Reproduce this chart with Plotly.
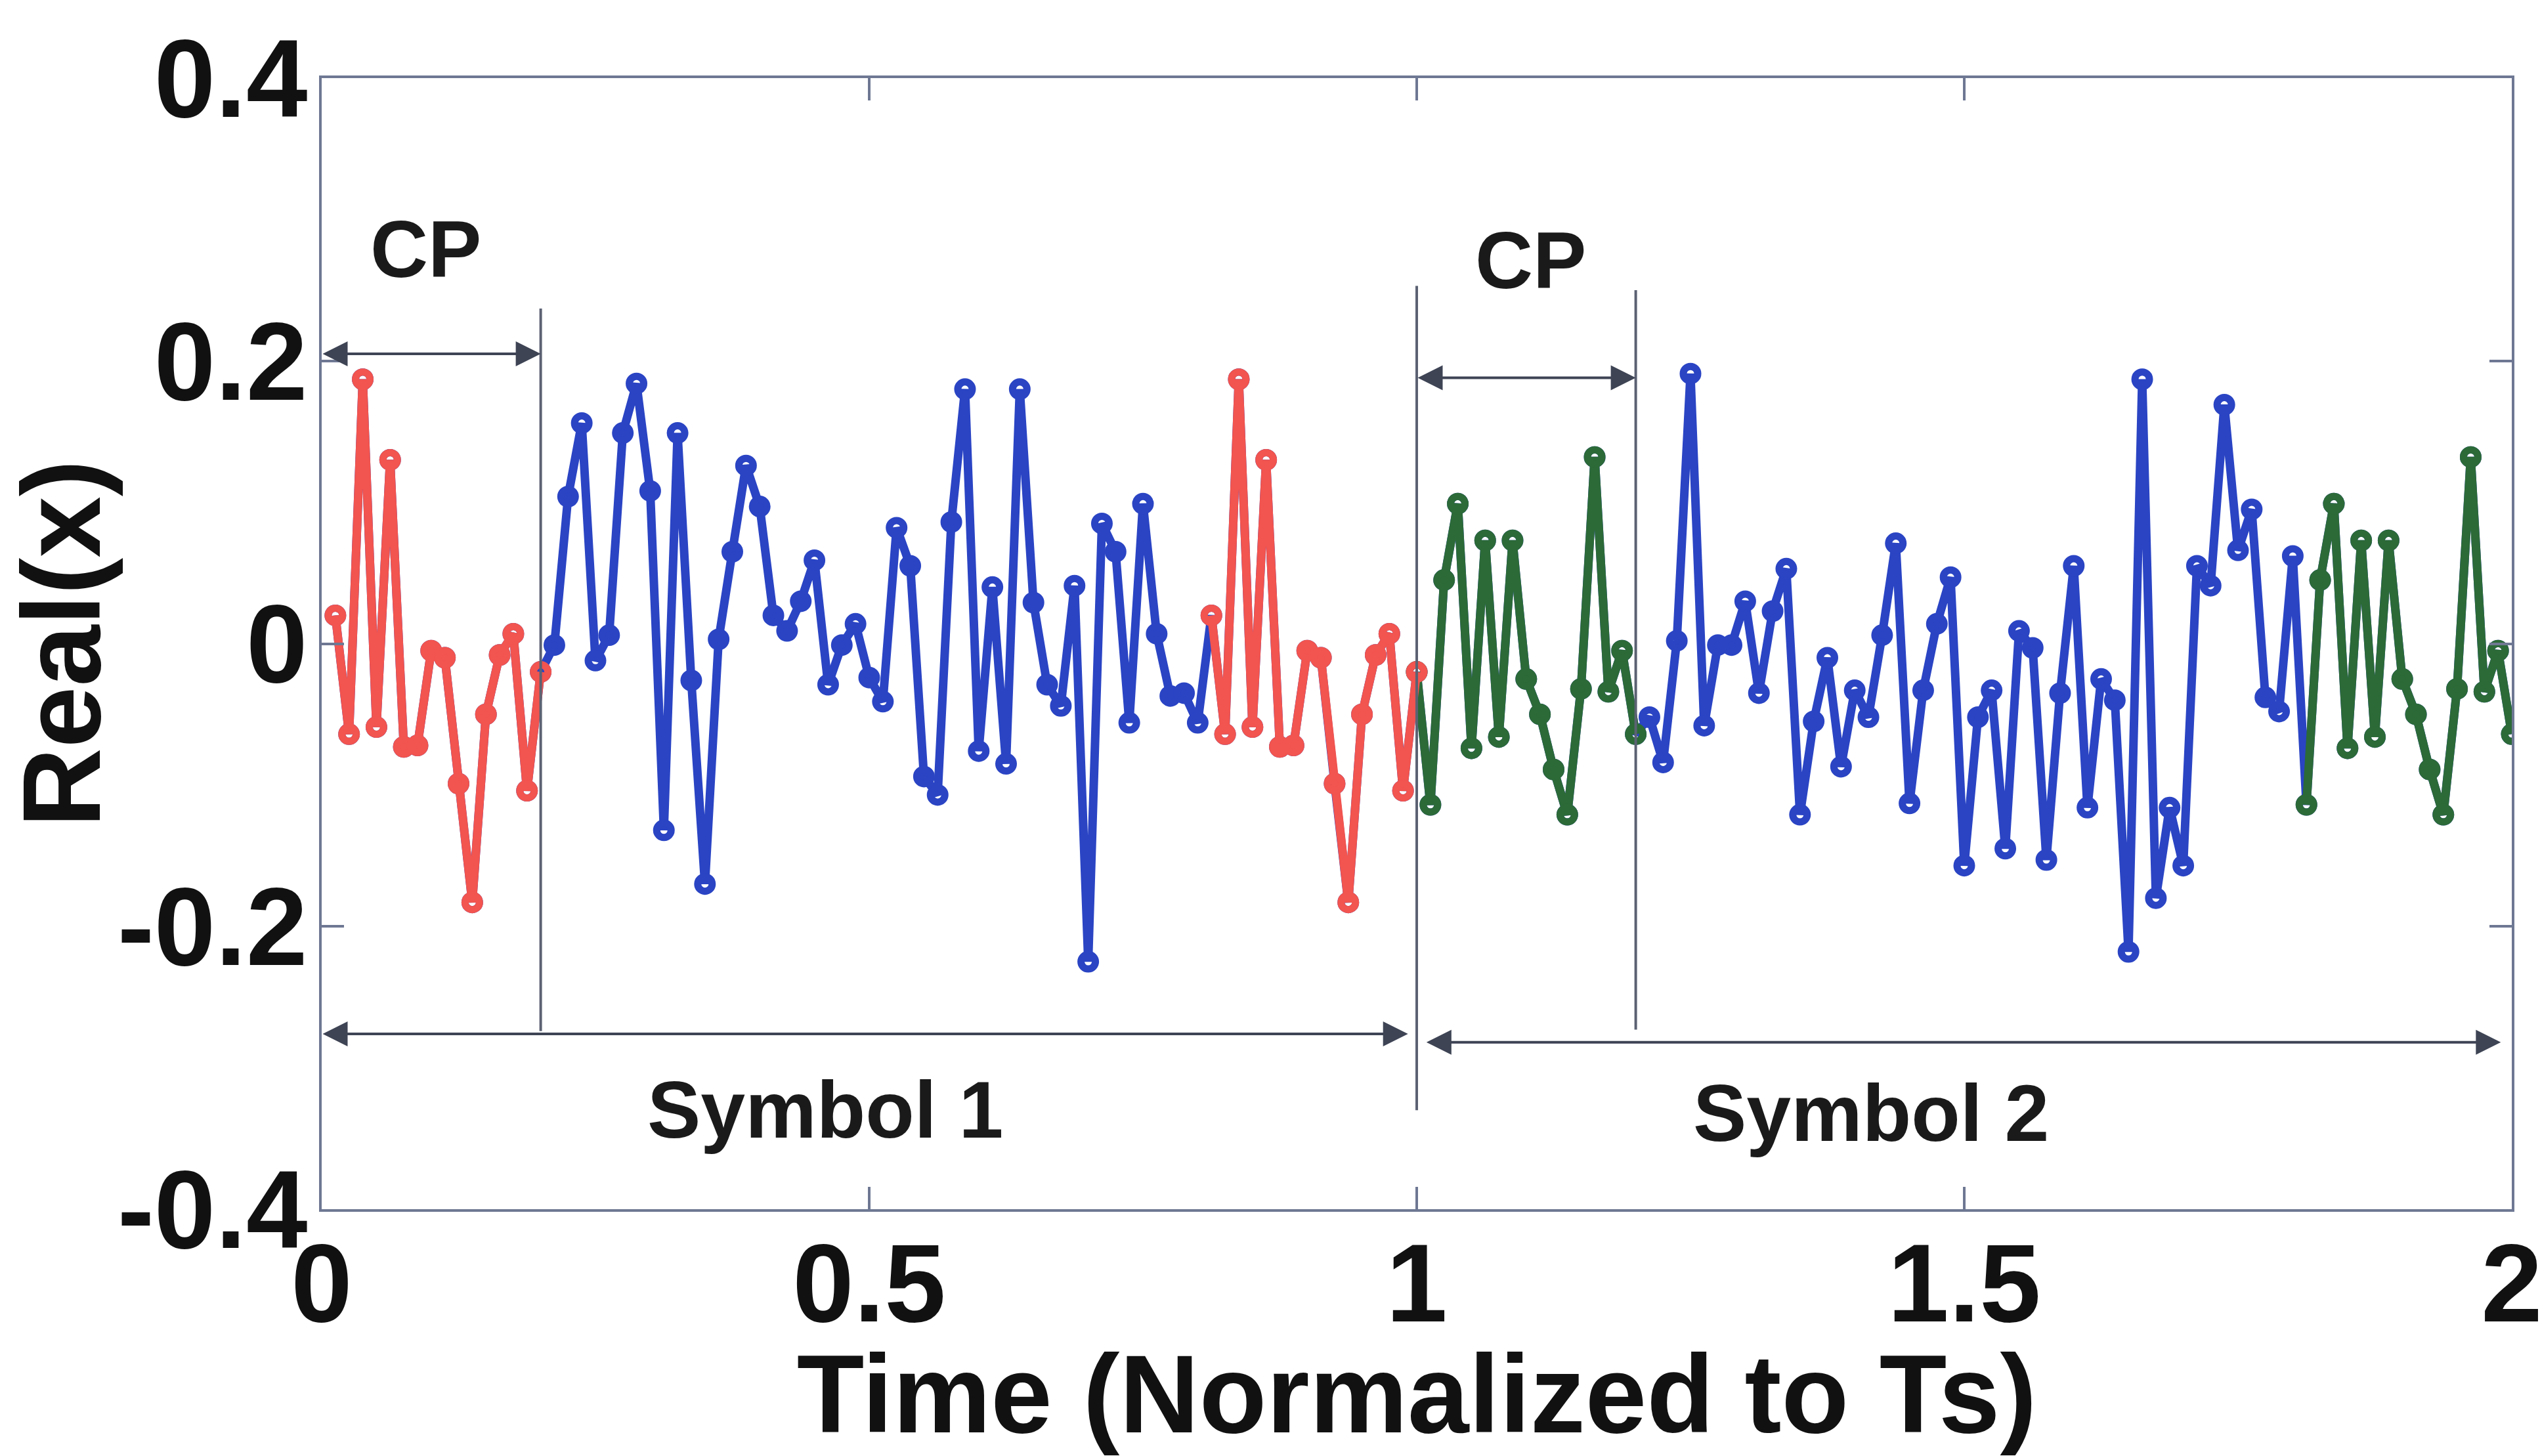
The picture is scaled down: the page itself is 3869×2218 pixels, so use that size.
import numpy as np
import plotly.graph_objects as go

# ---- OFDM time-domain samples (real part) ----
# Each symbol holds 64 useful samples; the cyclic prefix (CP) is a copy of
# the last 16 samples, transmitted in front of the symbol.
SAMPLES_PER_UNIT = 80          # 16 CP + 64 useful samples per symbol period Ts
CP_LEN = 16

symbol1 = [
    -0.001, 0.104, 0.156, -0.012, 0.006, 0.149, 0.184, 0.108,
    -0.132, 0.149, -0.026, -0.170, 0.003, 0.065, 0.126, 0.097,
    0.020, 0.009, 0.030, 0.059, -0.029, -0.001, 0.014, -0.024,
    -0.041, 0.082, 0.055, -0.094, -0.107, 0.086, 0.180, -0.076,
    0.040, -0.085, 0.180, 0.029, -0.029, -0.044, 0.041, -0.225,
    0.085, 0.065, -0.056, 0.099, 0.007, -0.037, -0.035, -0.056,
    0.020, -0.064, 0.187, -0.059, 0.130, -0.073, -0.072, -0.005,
    -0.010, -0.099, -0.183, -0.050, -0.008, 0.007, -0.104, -0.020,
]
symbol2 = [
    -0.052, -0.084, 0.002, 0.191, -0.058, -0.001, -0.001, 0.030,
    -0.035, 0.023, 0.053, -0.121, -0.055, -0.010, -0.087, -0.033,
    -0.052, 0.006, 0.071, -0.113, -0.033, 0.014, 0.047, -0.157,
    -0.052, -0.033, -0.145, 0.009, -0.003, -0.153, -0.035, 0.055,
    -0.116, -0.025, -0.040, -0.218, 0.187, -0.180, -0.116, -0.157,
    0.055, 0.041, 0.169, 0.066, 0.095, -0.038, -0.048, 0.062,
    -0.114, 0.045, 0.099, -0.074, 0.073, -0.066, 0.073, -0.025,
    -0.050, -0.089, -0.121, -0.032, 0.132, -0.034, -0.005, -0.064,
]

x_tick_vals = [0, 0.5, 1, 1.5, 2]
x_tick_text = ["0", "0.5", "1", "1.5", "2"]
y_tick_vals = [-0.4, -0.2, 0, 0.2, 0.4]
y_tick_text = ["-0.4", "-0.2", "0", "0.2", "0.4"]

# ---- assemble the transmitted stream: [CP1 | symbol1 | CP2 | symbol2] ----
cp1 = symbol1[-CP_LEN:]
cp2 = symbol2[-CP_LEN:]
signal = np.array(cp1 + symbol1 + cp2 + symbol2)
n = len(signal)
t = np.arange(1, n + 1) / SAMPLES_PER_UNIT


def pieces(ranges):
    """Concatenate index ranges of (t, signal) with gaps between them."""
    xs, ys = [], []
    for a, b in ranges:
        xs += list(t[a:b]) + [None]
        ys += list(signal[a:b]) + [None]
    return xs[:-1], ys[:-1]


BLUE = "#2a44c4"
RED = "#f2544f"
GREEN = "#2c6a38"
AXIS = "#6e7893"
FONT = "Liberation Sans, Arial, Helvetica, sans-serif"

marker_style = dict(symbol="circle-open", size=22, line=dict(width=11))
line_w = 13

fig = go.Figure()

# whole stream in blue
fig.add_trace(go.Scatter(
    x=t, y=signal, mode="lines+markers",
    line=dict(color=BLUE, width=line_w),
    marker=dict(color=BLUE, **marker_style),
    hoverinfo="skip",
))

# CP of symbol 2 and the tail it was copied from (green)
gx, gy = pieces([(SAMPLES_PER_UNIT - 1, SAMPLES_PER_UNIT + CP_LEN),
                 (n - CP_LEN, n)])
fig.add_trace(go.Scatter(
    x=gx, y=gy, mode="lines+markers",
    line=dict(color=GREEN, width=line_w),
    marker=dict(color=GREEN, **marker_style),
    hoverinfo="skip",
))

# CP of symbol 1 and the tail it was copied from (red)
rx, ry = pieces([(0, CP_LEN), (SAMPLES_PER_UNIT - CP_LEN, SAMPLES_PER_UNIT)])
fig.add_trace(go.Scatter(
    x=rx, y=ry, mode="lines+markers",
    line=dict(color=RED, width=line_w),
    marker=dict(color=RED, **marker_style),
    hoverinfo="skip",
))

# ---- boundary markers ----
cp_end1 = CP_LEN / SAMPLES_PER_UNIT
cp_end2 = 1 + CP_LEN / SAMPLES_PER_UNIT
vlines = [(cp_end1, 0.237, -0.274), (1.0, 0.253, -0.330), (cp_end2, 0.250, -0.273)]
for xv, y0, y1 in vlines:
    fig.add_shape(type="line", xref="x", yref="y", x0=xv, x1=xv, y0=y0, y1=y1,
                  line=dict(color="#5c6273", width=4))


def span_arrow(x0, x1, y):
    fig.add_annotation(
        x=x1, y=y, ax=x0, ay=y, xref="x", yref="y", axref="x", ayref="y",
        text="", showarrow=True, arrowside="end+start",
        arrowhead=2, startarrowhead=2, arrowsize=1.9, startarrowsize=1.9,
        arrowwidth=4, arrowcolor="#3e4454", standoff=0, startstandoff=0,
    )


span_arrow(0.0, cp_end1, 0.205)
span_arrow(1.0, cp_end2, 0.188)
span_arrow(0.0, 0.992, -0.276)
span_arrow(1.008, 1.99, -0.282)

label_font = dict(family=FONT, size=122, color="#1a1a1a", weight="bold")
for txt, xv, yv in [("CP", 0.095, 0.279), ("CP", 1.104, 0.271),
                    ("Symbol 1", 0.46, -0.330), ("Symbol 2", 1.415, -0.332)]:
    fig.add_annotation(x=xv, y=yv, xref="x", yref="y", text=txt,
                       showarrow=False, font=label_font)

tick_font = dict(family=FONT, size=168, color="#111111", weight="bold")
axis_common = dict(
    showline=True, linecolor=AXIS, linewidth=4, mirror="ticks",
    ticks="inside", ticklen=34, tickwidth=4, tickcolor=AXIS,
    showgrid=False, zeroline=False, tickfont=tick_font,
    ticklabeloverflow="allow",
)

fig.update_layout(
    width=3869, height=2218,
    margin=dict(l=490, r=43, t=119, b=376),
    paper_bgcolor="white", plot_bgcolor="white",
    showlegend=False,
    xaxis=dict(range=[0, 2], tickvals=x_tick_vals, ticktext=x_tick_text,
               ticklabelstandoff=-35,
               title=dict(text="Time (Normalized to Ts)", standoff=4,
                          font=dict(family=FONT, size=168, color="#111111",
                                    weight="bold")),
               automargin=False, **axis_common),
    yaxis=dict(range=[-0.4, 0.4], tickvals=y_tick_vals, ticktext=y_tick_text,
               ticklabelstandoff=-16,
               title=dict(text="Real(x)", standoff=0,
                          font=dict(family=FONT, size=168, color="#111111",
                                    weight="bold")),
               automargin=False, **axis_common),
)

fig.write_html("out.html")
